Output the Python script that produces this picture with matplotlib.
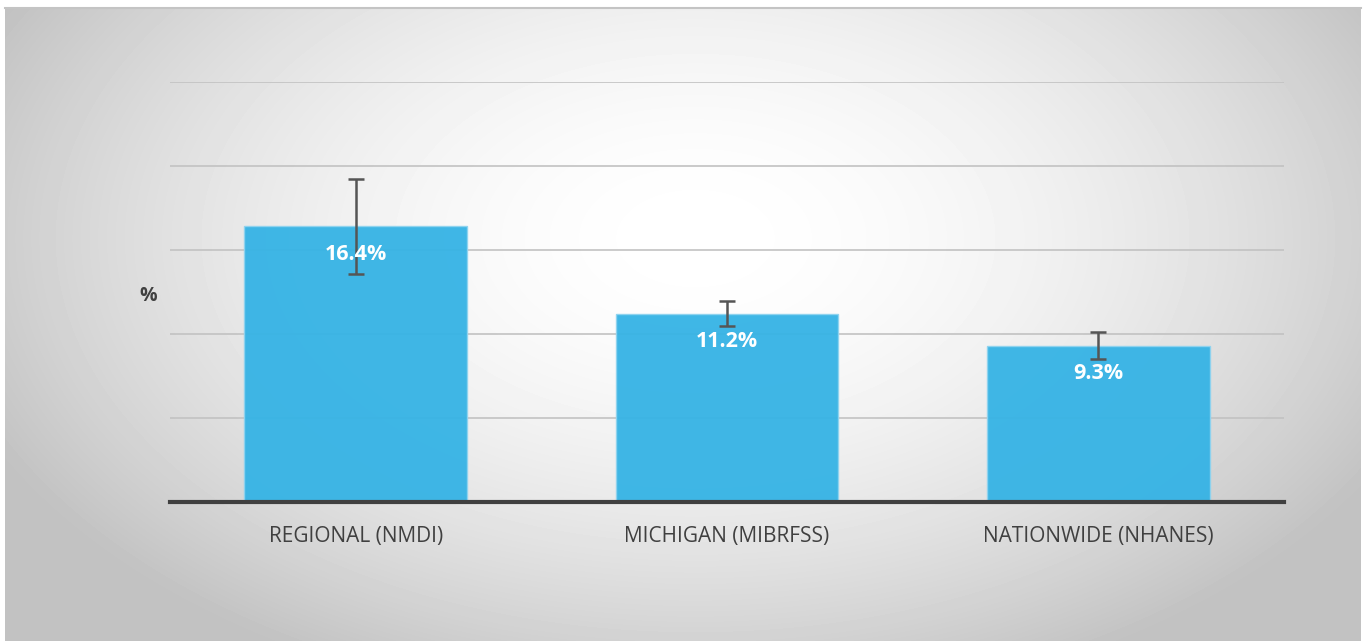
import matplotlib.pyplot as plt
import numpy as np

categories = ['REGIONAL (NMDI)', 'MICHIGAN (MIBRFSS)', 'NATIONWIDE (NHANES)']
values = [16.4, 11.2, 9.3]
err_low = [13.6, 10.5, 8.5]
err_high = [19.2, 11.95, 10.1]
labels = ['16.4%', '11.2%', '9.3%']

plt.rcParams['font.family'] = ['Open Sans', 'DejaVu Sans']

fig = plt.figure(figsize=(13.64, 6.41), dpi=100)

# background panel with radial gradient
bg = fig.add_axes([5 / 1364, 0, 1356 / 1364, 633 / 641])
h, w = 633, 1356
yy, xx = np.mgrid[0:h, 0:w]
r = np.sqrt(((xx - 690) / 780.0) ** 2 + ((yy - 230) / 480.0) ** 2)
shade = 1.0 - 0.24 * np.clip(r, 0, 1) ** 1.8
bg.imshow(shade, cmap='gray', vmin=0, vmax=1, aspect='auto', interpolation='bilinear')
bg.set_axis_off()
fig.add_artist(plt.Line2D([5 / 1364, 1361 / 1364], [633.5 / 641, 633.5 / 641],
                          color='#c4c4c4', lw=1.5))

ax = fig.add_axes([170 / 1364, (641 - 502) / 641, 1114 / 1364, 420 / 641])
ax.patch.set_alpha(0)
x = np.arange(len(categories))
ax.set_ylim(0, 25)
ax.set_xlim(-0.5, 2.5)
ax.set_yticks([5, 10, 15, 20, 25])
ax.yaxis.grid(True, color='#c2c2c2', lw=1.2)
ax.set_axisbelow(True)

ax.bar(x, values, width=0.6, color='#35b3e5', alpha=0.95,
       edgecolor='#8fd3ef', linewidth=1, zorder=2)
yerr = [np.array(values) - np.array(err_low), np.array(err_high) - np.array(values)]
ax.errorbar(x, values, yerr=yerr, fmt='none', ecolor='#555555',
            elinewidth=1.8, capsize=5.5, capthick=1.8, zorder=3)

for xi, v, lab in zip(x, values, labels):
    ax.text(xi, v - 1.65, lab, ha='center', va='center', color='white',
            fontsize=15.5, fontweight='bold', zorder=4)

for s in ['top', 'right', 'left']:
    ax.spines[s].set_visible(False)
ax.spines['bottom'].set_color('#404040')
ax.spines['bottom'].set_linewidth(3)
ax.tick_params(axis='y', length=0, labelleft=False)
ax.tick_params(axis='x', length=0, pad=17)
ax.set_xticks(x)
ax.set_xticklabels(categories, fontsize=15, color='#404040')

fig.text(148 / 1364, (641 - 296) / 641, '%', ha='center', va='center',
         fontsize=14, fontweight='bold', color='#404040')

fig.savefig('out.png', dpi=100)
